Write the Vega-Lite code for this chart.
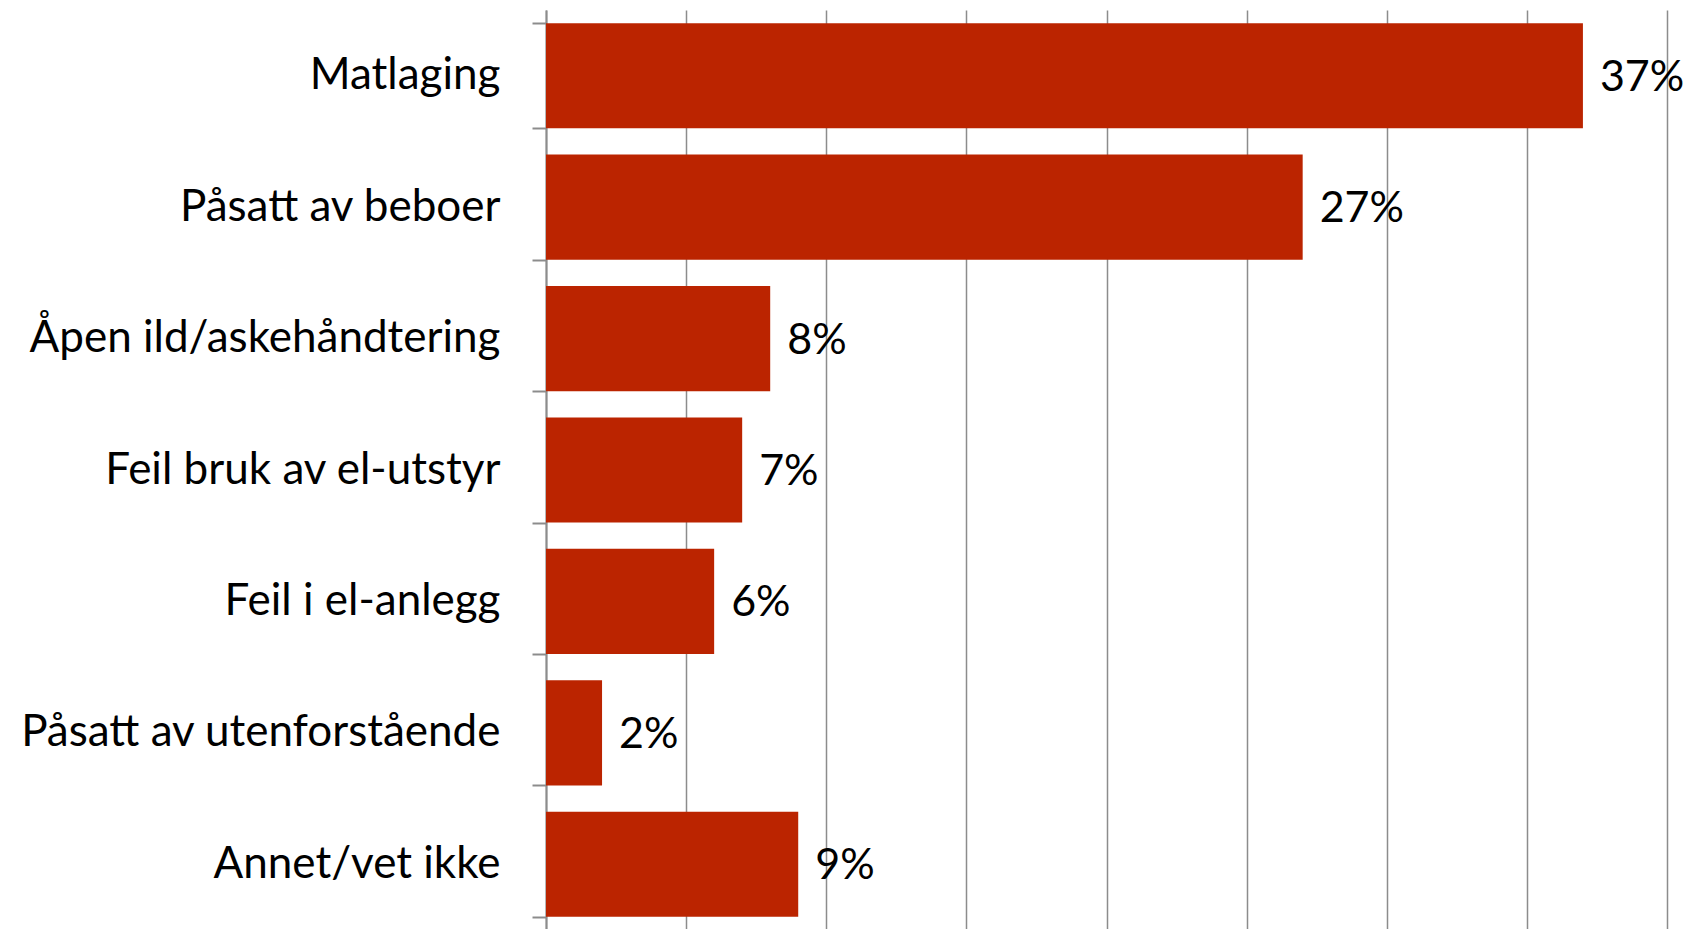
{
  "$schema": "https://vega.github.io/schema/vega-lite/v6.json",
  "width": 1121,
  "height": 920,
  "autosize": "none",
  "padding": {"left": 546, "top": 10, "right": 31, "bottom": 0},
  "background": "white",
  "config": {"view": {"stroke": null}, "font": "Lato"},
  "data": {
    "values": [
      {"arsak": "Matlaging", "andel": 0.37},
      {"arsak": "Påsatt av beboer", "andel": 0.27},
      {"arsak": "Åpen ild/askehåndtering", "andel": 0.08},
      {"arsak": "Feil bruk av el-utstyr", "andel": 0.07},
      {"arsak": "Feil i el-anlegg", "andel": 0.06},
      {"arsak": "Påsatt av utenforstående", "andel": 0.02},
      {"arsak": "Annet/vet ikke", "andel": 0.09}
    ]
  },
  "encoding": {
    "y": {
      "field": "arsak",
      "type": "nominal",
      "sort": null,
      "title": null,
      "scale": {"paddingInner": 0.2, "paddingOuter": 0.1},
      "axis": {
        "tickBand": "extent",
        "tickSize": 14,
        "tickColor": "#8c8c8c",
        "tickWidth": 2,
        "domainColor": "#8c8c8c",
        "domainWidth": 2,
        "labelFont": "Lato",
        "labelFontSize": 44,
        "labelColor": "#000000",
        "labelPadding": 32,
        "labelLimit": 600,
        "grid": false
      }
    },
    "x": {
      "field": "andel",
      "type": "quantitative",
      "title": null,
      "scale": {"domain": [0, 0.4], "nice": false},
      "axis": {
        "values": [0, 0.05, 0.1, 0.15, 0.2, 0.25, 0.3, 0.35, 0.4],
        "grid": true,
        "gridColor": "#8c8c8c",
        "gridWidth": 1.5,
        "labels": false,
        "ticks": false,
        "domain": false
      }
    }
  },
  "layer": [
    {
      "mark": {"type": "bar", "color": "#bb2400"}
    },
    {
      "mark": {
        "type": "text",
        "align": "left",
        "baseline": "middle",
        "dx": 17,
        "dy": 2,
        "font": "Lato",
        "fontSize": 43,
        "color": "#000000"
      },
      "encoding": {
        "text": {"field": "andel", "type": "quantitative", "format": ".0%"}
      }
    }
  ]
}
